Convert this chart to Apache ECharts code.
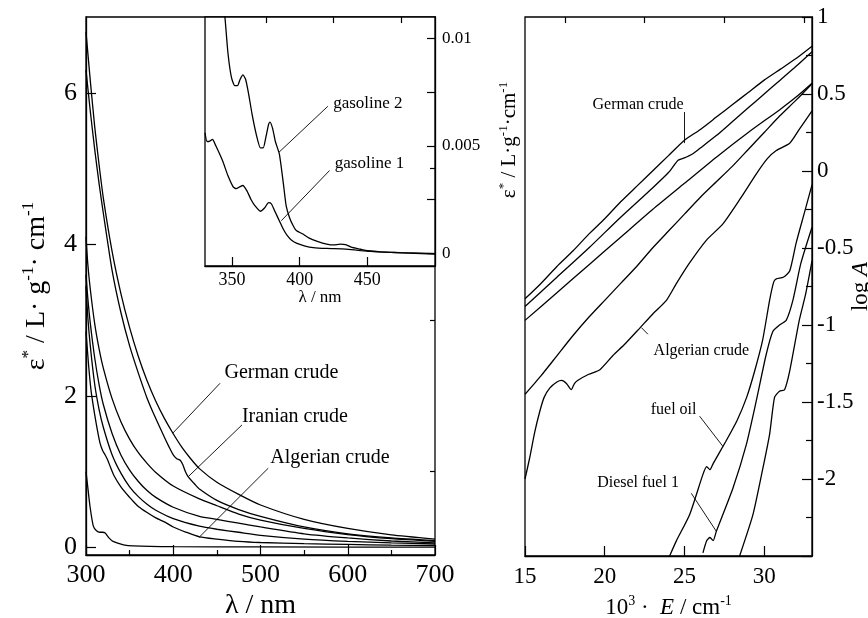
<!DOCTYPE html>
<html>
<head>
<meta charset="utf-8">
<script src="https://cdn.jsdelivr.net/npm/echarts@6/dist/echarts.min.js"></script>
<style>
html, body { margin: 0; background: #fff; }
#chart { width: 868px; height: 618px; }
</style>
</head>
<body>
<div id="chart"></div>
<script>
var FONT = '"Liberation Serif", "Times New Roman", serif';

// left panel: wavelength (nm) vs epsilon*
var germanCrude = [[300,6.8],[305,6.15],[310,5.55],[315,5.05],[320,4.6],[330,3.9],[340,3.35],[350,2.9],[360,2.52],[370,2.2],[380,1.93],[390,1.7],[400,1.5],[410,1.32],[420,1.17],[430,1.04],[450,0.86],[475,0.7],[500,0.56],[550,0.37],[600,0.25],[650,0.165],[700,0.11]];
var iranianCrude = [[300,6.3],[305,5.75],[310,5.25],[315,4.8],[320,4.4],[330,3.65],[340,3.1],[350,2.66],[360,2.3],[370,1.97],[380,1.7],[390,1.45],[395,1.33],[400,1.22],[404,1.17],[408,1.15],[411,1.09],[414,1.0],[417,0.935],[425,0.83],[430,0.77],[450,0.62],[475,0.5],[500,0.41],[550,0.27],[600,0.18],[650,0.125],[700,0.09]];
var crudeC = [[300,4.1],[302,3.75],[305,3.4],[310,2.95],[315,2.62],[320,2.36],[330,1.96],[340,1.66],[350,1.43],[360,1.25],[370,1.11],[380,0.99],[400,0.81],[430,0.64],[450,0.55],[475,0.44],[500,0.36],[550,0.25],[600,0.17],[650,0.115],[700,0.08]];
var crudeD = [[300,3.6],[302,3.3],[305,2.95],[310,2.5],[315,2.15],[320,1.88],[330,1.5],[340,1.22],[350,1.02],[360,0.87],[370,0.75],[380,0.66],[400,0.53],[430,0.41],[450,0.37],[475,0.32],[500,0.27],[550,0.18],[600,0.125],[650,0.085],[700,0.06]];
var crudeE = [[300,3.45],[302,3.05],[305,2.65],[310,2.15],[315,1.82],[320,1.58],[330,1.22],[340,0.98],[350,0.8],[360,0.67],[370,0.57],[380,0.49],[400,0.38],[430,0.28],[450,0.24],[475,0.2],[500,0.16],[550,0.11],[600,0.08],[650,0.06],[700,0.045]];
var algerianCrude = [[300,2.85],[303,2.4],[306,2.05],[310,1.75],[313,1.55],[316,1.38],[319,1.28],[322,1.22],[325,1.15],[328,1.06],[332,0.95],[340,0.8],[350,0.66],[354,0.61],[360,0.54],[370,0.46],[380,0.39],[391,0.33],[400,0.27],[415,0.2],[430,0.14],[450,0.11],[475,0.08],[500,0.065],[550,0.05],[600,0.04],[650,0.03],[700,0.025]];
var lightOil = [[300,1.0],[302,0.8],[304.6,0.54],[308.4,0.28],[312,0.22],[316,0.2],[319,0.2],[322,0.19],[326,0.13],[331,0.08],[343,0.035],[354,0.02],[400,0.01],[500,0.006],[700,0.004]];

// inset: gasolines
var gasoline2 = [[340,0.0145],[343,0.0122],[345,0.0108],[347,0.0093],[349.5,0.0082],[352,0.0078],[354,0.0078],[356,0.0081],[358,0.0083],[360,0.0081],[362,0.0075],[365,0.0064],[368,0.0055],[371,0.0049],[373,0.0049],[375,0.0054],[377,0.006],[378,0.0061],[380,0.0058],[382,0.0052],[385,0.0046],[388,0.0032],[390,0.0022],[392.5,0.00165],[395,0.0013],[397.5,0.00105],[402,0.0009],[407,0.0007],[413,0.00055],[420,0.00042],[425,0.00038],[430,0.00042],[434,0.0004],[438,0.00028],[445,0.00018],[450,0.00011],[460,0.00006],[470,0.00003],[480,0.0],[490,-0.00002],[500,-0.00005]];
var gasoline1 = [[330,0.0056],[331.5,0.0052],[333,0.0052],[335.5,0.0053],[338,0.005],[343,0.0043],[347,0.0036],[350.7,0.0031],[353,0.003],[356,0.0031],[358,0.00315],[361,0.0029],[364,0.0025],[367,0.0022],[371,0.00195],[374,0.0021],[377,0.00235],[379,0.0023],[382,0.0019],[385,0.0015],[388,0.0011],[391,0.0008],[394,0.0006],[398,0.00045],[404,0.00033],[410,0.00026],[420,0.00022],[434,0.00019],[445,0.00012],[459,0.00006],[475,0.00002],[490,0.0],[500,-0.00002]];

// right panel: 10^3 E (cm-1) vs log A
var germanLog = [[15,-0.83],[16,-0.73],[17,-0.62],[18,-0.52],[19,-0.41],[20,-0.31],[21,-0.2],[22,-0.1],[23,0.0],[24,0.1],[25,0.2],[26,0.27],[27,0.35],[28,0.43],[29,0.51],[30,0.59],[31,0.66],[32,0.73],[33,0.81]];
var crude2Log = [[15,-0.88],[17,-0.69],[19,-0.5],[21,-0.3],[23,-0.11],[24,-0.01],[24.6,0.07],[25,0.085],[25.5,0.11],[26,0.15],[27,0.23],[28,0.32],[29,0.41],[30,0.5],[31,0.59],[32,0.68],[33,0.775]];
var crude3Log = [[15,-0.97],[17,-0.79],[19,-0.61],[21,-0.43],[23,-0.25],[25,-0.08],[27,0.09],[29,0.25],[31,0.4],[32,0.48],[33,0.57]];
var crude4Log = [[15,-1.45],[16,-1.33],[17,-1.2],[18,-1.07],[19,-0.95],[20,-0.84],[21,-0.73],[22,-0.62],[23,-0.5],[24,-0.39],[25,-0.28],[26,-0.17],[27,-0.07],[28,0.03],[29,0.14],[30,0.25],[31,0.36],[32,0.46],[33,0.567]];
var algerianLog = [[15,-2.0],[15.3,-1.86],[15.6,-1.7],[15.93,-1.56],[16.2,-1.47],[16.55,-1.41],[17,-1.37],[17.3,-1.36],[17.6,-1.38],[17.9,-1.42],[18.1,-1.38],[18.3,-1.36],[19,-1.32],[19.7,-1.29],[20.5,-1.2],[21.3,-1.12],[22.2,-1.02],[23,-0.93],[23.87,-0.84],[24.5,-0.73],[25.3,-0.6],[26.37,-0.45],[27.4,-0.345],[28.5,-0.18],[29.5,-0.02],[30.2,0.08],[30.76,0.133],[31.6,0.18],[32.2,0.27],[33,0.39]];
var fuelOilLog = [[24.07,-2.5],[24.5,-2.4],[25.33,-2.23],[26.16,-1.97],[26.4,-1.92],[26.6,-1.94],[26.8,-1.9],[27.6,-1.755],[28.3,-1.62],[28.9,-1.47],[29.4,-1.3],[29.9,-1.1],[30.34,-0.84],[30.6,-0.72],[30.76,-0.7],[31.2,-0.69],[31.6,-0.65],[32,-0.47],[32.5,-0.28],[33,-0.09]];
var diesel1Log = [[26.16,-2.48],[26.4,-2.4],[26.6,-2.38],[26.8,-2.4],[27,-2.34],[28.04,-2.06],[28.88,-1.777],[29.5,-1.495],[30.13,-1.19],[30.55,-1.04],[30.96,-1.0],[31.38,-0.97],[31.8,-0.84],[32.3,-0.6],[33,-0.365]];
var diesel2Log = [[28.46,-2.5],[29.3,-2.23],[29.92,-1.93],[30.34,-1.71],[30.65,-1.47],[30.96,-1.43],[31.28,-1.42],[31.6,-1.3],[32.2,-0.97],[32.6,-0.8],[33,-0.584]];

// tick values
var mainYLabels = [0, 2, 4, 6];
var mainYMinor = [1, 3, 5];
var insetXLabels = [350, 400, 450];
var insetXMinor = [375, 425, 475];
var insetYLabels = [0, 0.005, 0.01];
var insetYTicks = [0, 0.0025, 0.005, 0.0075, 0.01];
var rightXLabels = [15, 20, 25, 30];
var rightXMinor = [17.5, 22.5, 27.5, 32.5];

// labels with leader lines, in data coordinates
var notes = [
  { text: 'German crude', x: 0, y: 0, at: [524, 2.30], size: 20, line: [[453.6, 2.166], [399.4, 1.507]] },
  { text: 'Iranian crude', x: 0, y: 0, at: [539.5, 1.72], size: 20, line: [[478.8, 1.617], [417.3, 0.935]] },
  { text: 'Algerian crude', x: 0, y: 0, at: [579.7, 1.18], size: 20, line: [[508.9, 1.046], [429.5, 0.132]] },
  { text: 'gasoline 2', x: 1, y: 2, at: [450.4, 0.00698], size: 17, line: [[420.8, 0.00684], [384.7, 0.0047]] },
  { text: 'gasoline 1', x: 1, y: 2, at: [451.6, 0.00417], size: 17, line: [[422.1, 0.00385], [386.4, 0.00151]] },
  { text: 'German crude', x: 3, y: 3, at: [22.09, 0.428], size: 16, line: [[25.01, 0.383], [25.01, 0.181]] },
  { text: 'Algerian crude', x: 3, y: 3, at: [26.06, -1.169], size: 16, line: [[22.71, -1.06], [22.3, -1.017]] },
  { text: 'fuel oil', x: 3, y: 3, at: [24.32, -1.549], size: 16, line: [[25.95, -1.592], [27.41, -1.788]] },
  { text: 'Diesel fuel 1', x: 3, y: 3, at: [22.09, -2.027], size: 16, line: [[25.43, -2.093], [27.0, -2.34]] }
];

function sup(size) {
  return { fontSize: size, fontFamily: FONT, color: '#000', verticalAlign: 'top' };
}

function axisBase(extra) {
  var base = {
    type: 'value',
    nameMoveOverlap: false,
    axisLine: { show: true, onZero: false, lineStyle: { color: '#000', width: 1.3 } },
    axisTick: { show: true, inside: true, length: 10, lineStyle: { color: '#000', width: 1.2 } },
    axisLabel: { color: '#000', fontFamily: FONT, fontSize: 25 },
    splitLine: { show: false }
  };
  return Object.assign(base, extra);
}

function minorAxis(extra) {
  return Object.assign({
    type: 'value',
    axisLine: { show: false, onZero: false },
    axisLabel: { show: false },
    splitLine: { show: false }
  }, extra);
}

var groups = [
  { x: 0, y: 0, list: [germanCrude, iranianCrude, crudeC, crudeD, crudeE, algerianCrude, lightOil] },
  { x: 1, y: 2, list: [gasoline2, gasoline1] },
  { x: 3, y: 3, list: [germanLog, crude2Log, crude3Log, crude4Log, algerianLog, fuelOilLog, diesel1Log, diesel2Log] }
];

var series = [];
groups.forEach(function (g) {
  g.list.forEach(function (d) {
    series.push({
      type: 'line', xAxisIndex: g.x, yAxisIndex: g.y, data: d,
      showSymbol: false, symbol: 'none', smooth: 0.2, silent: true,
      lineStyle: { color: '#000', width: 1.3 }
    });
  });
});

notes.forEach(function (n) {
  series.push({
    type: 'line', xAxisIndex: n.x, yAxisIndex: n.y, data: [], silent: true,
    markLine: {
      silent: true, symbol: ['none', 'none'], animation: false,
      label: { show: false },
      lineStyle: { color: '#000', width: 0.9, type: 'solid' },
      data: [[{ coord: n.line[0] }, { coord: n.line[1] }]]
    }
  });
});

var gridBase = { show: true, borderColor: '#000', borderWidth: 1.3, outerBoundsMode: 'none', containLabel: false };

var option = {
  animation: false,
  backgroundColor: '#fff',
  grid: [
    Object.assign({ left: 86, top: 17, width: 349, height: 538, backgroundColor: 'transparent' }, gridBase),
    Object.assign({ left: 205, top: 17, width: 230, height: 249, backgroundColor: '#fff' }, gridBase),
    Object.assign({ left: 525, top: 17, width: 287, height: 539, backgroundColor: 'transparent' }, gridBase)
  ],
  xAxis: [
    axisBase({
      gridIndex: 0, min: 300, max: 700, interval: 100,
      minorTick: { show: true, splitNumber: 2, length: 5, lineStyle: { color: '#000', width: 1.2 } },
      axisLabel: { color: '#000', fontFamily: FONT, fontSize: 26, margin: 7 },
      name: 'λ / nm', nameLocation: 'middle', nameGap: 37,
      nameTextStyle: { color: '#000', fontFamily: FONT, fontSize: 28 }
    }),
    axisBase({
      gridIndex: 1, min: 330, max: 500,
      axisTick: { show: true, inside: true, length: 9, customValues: insetXLabels, lineStyle: { color: '#000', width: 1.2 } },
      axisLabel: { color: '#000', fontFamily: FONT, fontSize: 18, margin: 5, customValues: insetXLabels },
      name: 'λ / nm', nameLocation: 'middle', nameGap: 23,
      nameTextStyle: { color: '#000', fontFamily: FONT, fontSize: 17 }
    }),
    minorAxis({
      gridIndex: 1, min: 330, max: 500,
      axisTick: { show: true, inside: true, length: 6, customValues: insetXMinor, lineStyle: { color: '#000', width: 1.2 } }
    }),
    axisBase({
      gridIndex: 2, min: 15, max: 33,
      axisTick: { show: true, inside: true, length: 10, customValues: rightXLabels, lineStyle: { color: '#000', width: 1.2 } },
      axisLabel: { color: '#000', fontFamily: FONT, fontSize: 23, margin: 9, customValues: rightXLabels },
      name: '10{sup|3} ·  {i|E} / cm{sup|-1}', nameLocation: 'middle', nameGap: 38,
      nameTextStyle: {
        color: '#000', fontFamily: FONT, fontSize: 23, lineHeight: 28,
        rich: { sup: sup(14), i: { fontStyle: 'italic', fontSize: 23, fontFamily: FONT, color: '#000' } }
      }
    }),
    minorAxis({
      gridIndex: 2, min: 15, max: 33,
      axisTick: { show: true, inside: true, length: 6, customValues: rightXMinor, lineStyle: { color: '#000', width: 1.2 } }
    })
  ],
  yAxis: [
    axisBase({
      gridIndex: 0, min: -0.1, max: 7,
      axisTick: { show: true, inside: true, length: 10, customValues: mainYLabels, lineStyle: { color: '#000', width: 1.2 } },
      axisLabel: { color: '#000', fontFamily: FONT, fontSize: 26, margin: 9, customValues: mainYLabels },
      name: 'ε{sup|*} / L· g{sup|-1}· cm{sup|-1}', nameLocation: 'middle', nameGap: 32,
      nameTextStyle: {
        color: '#000', fontFamily: FONT, fontSize: 28, lineHeight: 34,
        rich: { sup: sup(17) }
      }
    }),
    minorAxis({
      gridIndex: 0, min: -0.1, max: 7,
      axisTick: { show: true, inside: true, length: 5, customValues: mainYMinor, lineStyle: { color: '#000', width: 1.2 } }
    }),
    axisBase({
      gridIndex: 1, min: -0.0006, max: 0.011, position: 'right',
      axisTick: { show: true, inside: true, length: 8, customValues: insetYTicks, lineStyle: { color: '#000', width: 1.2 } },
      axisLabel: {
        color: '#000', fontFamily: FONT, fontSize: 17, margin: 7, customValues: insetYLabels,
        formatter: function (v) { return String(+v.toFixed(4)); }
      }
    }),
    axisBase({
      gridIndex: 2, min: -2.5, max: 1, interval: 0.5, position: 'right',
      minorTick: { show: true, splitNumber: 2, length: 6, lineStyle: { color: '#000', width: 1.2 } },
      axisLabel: { color: '#000', fontFamily: FONT, fontSize: 23, margin: 5, showMinLabel: false },
      name: 'log {i|A}', nameLocation: 'middle', nameGap: 37,
      nameTextStyle: {
        color: '#000', fontFamily: FONT, fontSize: 23,
        rich: { i: { fontStyle: 'italic', fontSize: 23, fontFamily: FONT, color: '#000' } }
      }
    })
  ],
  series: series
};

var chart = echarts.init(document.getElementById('chart'), null, { renderer: 'canvas' });
chart.setOption(option);

var graphics = notes.map(function (n) {
  var p = chart.convertToPixel({ xAxisIndex: n.x, yAxisIndex: n.y }, n.at);
  return {
    type: 'text', x: p[0], y: p[1], z: 100, silent: true,
    style: { text: n.text, fill: '#000', font: n.size + 'px ' + FONT, align: 'center', verticalAlign: 'middle' }
  };
});
graphics.push({
  type: 'text', x: 509, y: 140, rotation: Math.PI / 2, z: 100, silent: true,
  style: {
    text: 'ε{sup|*} / L·g{sup|-1}·cm{sup|-1}', fill: '#000', font: '21px ' + FONT,
    align: 'center', verticalAlign: 'middle', lineHeight: 24,
    rich: { sup: { fontSize: 13, fontFamily: FONT, fill: '#000', verticalAlign: 'top' } }
  }
});
chart.setOption({ graphic: graphics });
</script>
</body>
</html>
